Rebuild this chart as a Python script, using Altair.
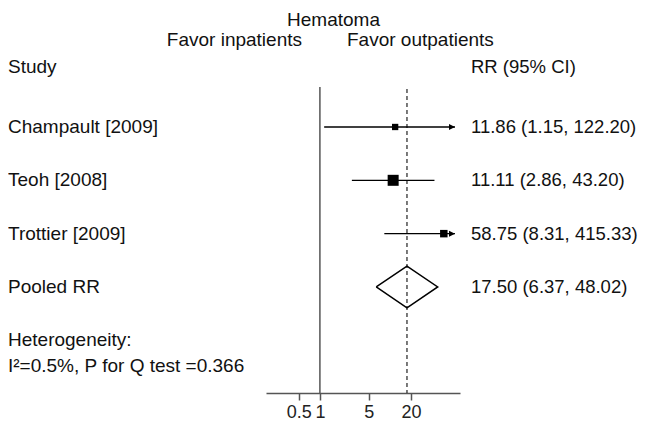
import altair as alt
import pandas as pd

# ---- data ----
studies = ["Champault [2009]", "Teoh [2008]", "Trottier [2009]"]
rr = [11.86, 11.11, 58.75]
lo = [1.15, 2.86, 8.31]
hi = [122.20, 43.20, 415.33]
rr_text = ["11.86 (1.15, 122.20)", "11.11 (2.86, 43.20)", "58.75 (8.31, 415.33)"]
box_size = [40, 121, 56]
rows = [1, 2, 3]

pooled_label = "Pooled RR"
pooled_rr = 17.50
pooled_lo = 6.37
pooled_hi = 48.02
pooled_text = "17.50 (6.37, 48.02)"
pooled_row = 4

tick_values = [0.5, 1, 5, 20]
x_domain = [0.17, 100]
clip_at = 84.8          # where arrows are drawn for CIs beyond the plotted range
y_domain = [-1.231, 5.988]

FONT = "Liberation Sans"
FS = 19

df = pd.DataFrame({
    "study": studies, "rr": rr, "lo": lo, "hi": hi, "txt": rr_text,
    "size": box_size, "row": rows,
})
df["hi_draw"] = df["hi"].clip(upper=clip_at)
arrows = df[df["hi"] > clip_at].assign(ax=clip_at)

diamond = pd.DataFrame({
    "x": [pooled_lo, pooled_rr, pooled_hi, pooled_rr, pooled_lo],
    "row": [pooled_row, pooled_row - 0.39, pooled_row, pooled_row + 0.39, pooled_row],
    "ord": [0, 1, 2, 3, 4],
})

ref = pd.DataFrame({"x": [1.0], "top": [0.25], "bot": [y_domain[1]]})
dash = pd.DataFrame({"x": [pooled_rr], "top": [0.287], "bot": [y_domain[1]]})

left_text = pd.DataFrame({
    "t": ["Study"] + studies + [pooled_label, "Heterogeneity:", "I\u00b2=0.5%, P for Q test =0.366"],
    "row": [-0.116] + rows + [pooled_row, 5.003, 5.48],
})
right_text = pd.DataFrame({
    "t": ["RR (95% CI)"] + rr_text + [pooled_text],
    "row": [-0.116] + rows + [pooled_row],
})
title_text = pd.DataFrame({"t": ["Hematoma"], "row": [-1.0]})
fav_in = pd.DataFrame({"t": ["Favor inpatients"], "row": [-0.631]})
fav_out = pd.DataFrame({"t": ["Favor outpatients"], "row": [-0.631]})

# ---- scales ----
xscale = alt.Scale(type="log", domain=x_domain, range=[258, 452], nice=False, zero=False)
yscale = alt.Scale(domain=y_domain, reverse=True, nice=False, zero=False)
xaxis = alt.Axis(values=tick_values, format="~g", title=None, grid=False,
                 domainColor="#555555", domainWidth=1.5, tickColor="#555555",
                 tickWidth=1.5, tickSize=7, labelFontSize=18, labelFont=FONT,
                 labelColor="#222222", labelPadding=3, labelFlush=False,
                 labelOverlap=False)


def X(f):
    return alt.X(f, scale=xscale, axis=xaxis)


def Y(f):
    return alt.Y(f, scale=yscale, axis=None)


ref_rule = alt.Chart(ref).mark_rule(color="#555555", strokeWidth=1.5).encode(
    x=X("x:Q"), y=Y("top:Q"), y2="bot:Q")
dash_rule = alt.Chart(dash).mark_rule(color="#222222", strokeWidth=1.2,
                                      strokeDash=[4, 3]).encode(
    x=X("x:Q"), y=Y("top:Q"), y2="bot:Q")

ci = alt.Chart(df).mark_rule(color="black", strokeWidth=1.3).encode(
    x=X("lo:Q"), x2="hi_draw:Q", y=Y("row:Q"))
boxes = alt.Chart(df).mark_point(shape="square", filled=True, color="black",
                                 opacity=1).encode(
    x=X("rr:Q"), y=Y("row:Q"),
    size=alt.Size("size:Q", scale=None, legend=None))
arrow = alt.Chart(arrows).mark_point(shape="M-1,-0.5L0,0L-1,0.5Z", filled=True,
                                     color="black", opacity=1, size=144).encode(
    x=X("ax:Q"), y=Y("row:Q"))
dia = alt.Chart(diamond).mark_line(color="black", strokeWidth=1.5).encode(
    x=X("x:Q"), y=Y("row:Q"), order=alt.Order("ord:Q"))


def txt(data, x, align, fs=FS):
    return alt.Chart(data).mark_text(align=align, baseline="middle", font=FONT,
                                     fontSize=fs, color="#111111").encode(
        x=alt.value(x), y=Y("row:Q"), text="t:N")


chart = alt.layer(
    ref_rule, dash_rule, ci, arrow, boxes, dia,
    txt(left_text, 0, "left"),
    txt(right_text, 463, "left", 18.5),
    txt(title_text, 325.5, "center"),
    txt(fav_in, 294, "right"),
    txt(fav_out, 339, "left"),
).properties(
    width=634, height=385,
    autosize=alt.AutoSizeParams(type="none"),
    padding={"left": 0, "top": 0, "right": 0, "bottom": 33},
).configure_view(stroke=None)

chart.save("out.html", embed_options={"renderer": "svg", "actions": False})
